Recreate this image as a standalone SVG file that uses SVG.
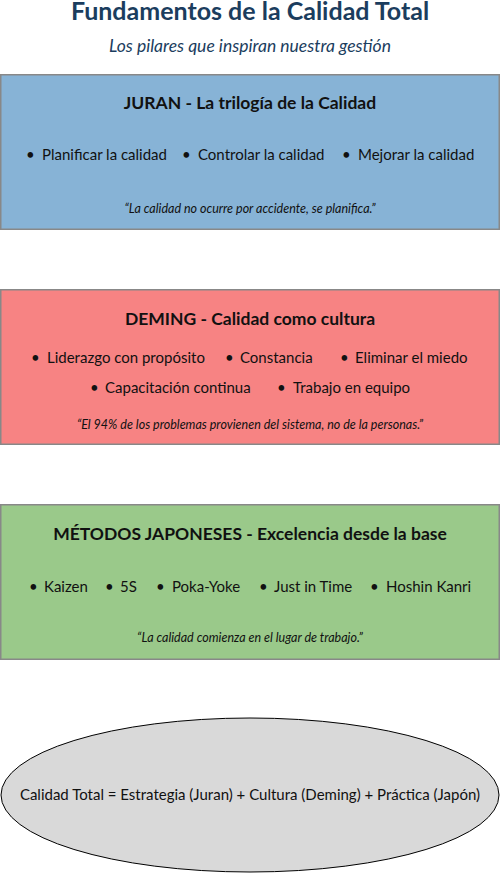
<svg xmlns="http://www.w3.org/2000/svg" width="500" height="874" viewBox="0 0 500 874">
<style>
text{font-family:Lato,"Noto Sans",sans-serif;fill:#111}
.title{font-size:25px;font-weight:bold;fill:#1b3d5e}
.sub{font-size:17.5px;font-style:italic;fill:#1b3d5e}
.box{stroke:#888;stroke-width:1.5}
.h{font-size:17.5px;font-weight:bold}
.b{font-size:15px}
.q{font-size:12.5px;font-style:italic}
</style>
<rect width="500" height="874" fill="#fff"/>
<g id="header">
<text class="title" x="250" y="20" text-anchor="middle">Fundamentos de la Calidad Total</text>
<text class="sub" x="250" y="52" text-anchor="middle">Los pilares que inspiran nuestra gestión</text>
</g>
<g id="juran">
<rect class="box" x="0.75" y="74.75" width="498.5" height="154.5" fill="#87b3d6"/>
<text class="h" x="250" y="109" text-anchor="middle">JURAN - La trilogía de la Calidad</text>
<text class="b" y="160"><tspan x="26">•</tspan><tspan x="42">Planificar la calidad</tspan><tspan x="182">•</tspan><tspan x="198">Controlar la calidad</tspan><tspan x="342">•</tspan><tspan x="358">Mejorar la calidad</tspan></text>
<text class="q" x="250" y="213" text-anchor="middle">“La calidad no ocurre por accidente, se planifica.”</text>
</g>
<g id="deming">
<rect class="box" x="0.75" y="289.75" width="498.5" height="154.5" fill="#f78383"/>
<text class="h" x="250" y="325" text-anchor="middle">DEMING - Calidad como cultura</text>
<text class="b" y="363"><tspan x="31">•</tspan><tspan x="47">Liderazgo con propósito</tspan><tspan x="225">•</tspan><tspan x="240">Constancia</tspan><tspan x="340">•</tspan><tspan x="355">Eliminar el miedo</tspan></text>
<text class="b" y="393"><tspan x="90">•</tspan><tspan x="105">Capacitación continua</tspan><tspan x="277">•</tspan><tspan x="293">Trabajo en equipo</tspan></text>
<text class="q" x="250" y="429" text-anchor="middle">“El 94% de los problemas provienen del sistema, no de la personas.”</text>
</g>
<g id="japon">
<rect class="box" x="0.75" y="504.75" width="498.5" height="154.5" fill="#9ac98a"/>
<text class="h" x="250" y="540" text-anchor="middle">MÉTODOS JAPONESES - Excelencia desde la base</text>
<text class="b" y="592"><tspan x="29">•</tspan><tspan x="44">Kaizen</tspan><tspan x="105">•</tspan><tspan x="120">5S</tspan><tspan x="156">•</tspan><tspan x="172">Poka-Yoke</tspan><tspan x="259">•</tspan><tspan x="274">Just in Time</tspan><tspan x="370">•</tspan><tspan x="386">Hoshin Kanri</tspan></text>
<text class="q" x="250" y="642" text-anchor="middle">“La calidad comienza en el lugar de trabajo.”</text>
</g>
<g id="total">
<ellipse cx="250" cy="795" rx="249" ry="77" fill="#d9d9d9" stroke="#000" stroke-width="1"/>
<text class="b" x="250" y="800" text-anchor="middle">Calidad Total = Estrategia (Juran) + Cultura (Deming) + Práctica (Japón)</text>
</g>
<g id="connectors"/>
</svg>
